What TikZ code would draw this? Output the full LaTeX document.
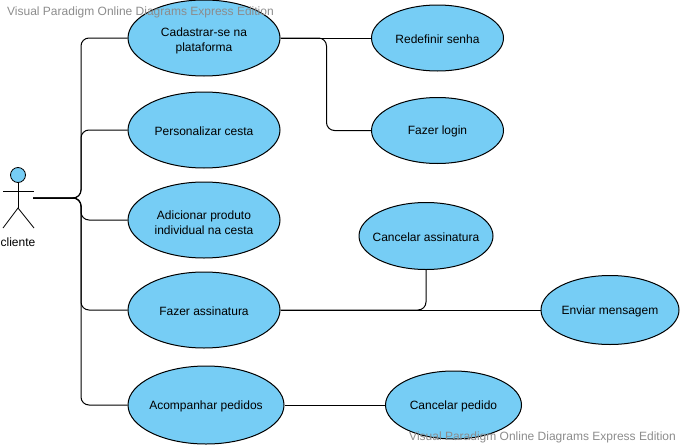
\documentclass[tikz,border=0pt]{standalone}
\usepackage{fontspec}
\setmainfont{Liberation Sans}
\usetikzlibrary{shapes.geometric}
\definecolor{usefill}{HTML}{76CDF5}
\definecolor{markgrey}{HTML}{8C8C8C}
\newcommand{\firstline}{\rule{0pt}{14pt}}
\tikzset{
usecase/.style={ellipse,draw=black,fill=usefill,line width=1pt,inner sep=-30pt,align=center,font=\fontsize{12}{15}\selectfont,execute at begin node={\rule{0pt}{11pt}}},
conn/.style={draw=black,line width=1pt,rounded corners=8pt},
stick/.style={draw=black,line width=0.8pt},
watermark/.style={text=markgrey,inner sep=0pt,font=\fontsize{12}{14}\selectfont}
}
\begin{document}
\begin{tikzpicture}[x=1pt,y=-1pt]
\useasboundingbox (0,0) rectangle (682,447);
%use cases
\node[usecase,minimum width=152pt,minimum height=76pt] (cadastrar) at (204,38) {\firstline Cadastrar-se na\\plataforma};
\node[usecase,minimum width=152pt,minimum height=76pt] (cesta) at (204,130) {Personalizar cesta};
\node[usecase,minimum width=152pt,minimum height=76pt] (produto) at (204,220) {\firstline Adicionar produto\\individual na cesta};
\node[usecase,minimum width=152pt,minimum height=76pt] (assinatura) at (204,310) {Fazer assinatura};
\node[usecase,minimum width=156pt,minimum height=78pt] (pedidos) at (206,405) {Acompanhar pedidos};
\node[usecase,minimum width=132pt,minimum height=66pt] (senha) at (437.5,38) {Redefinir senha};
\node[usecase,minimum width=132pt,minimum height=66pt] (login) at (437.5,130.5) {Fazer login};
\node[usecase,minimum width=134pt,minimum height=67pt] (cancelar) at (426,236) {Cancelar assinatura};
\node[usecase,minimum width=138pt,minimum height=69pt] (mensagem) at (610,310) {Enviar mensagem};
\node[usecase,minimum width=136pt,minimum height=68pt] (cancpedido) at (453.5,405) {Cancelar pedido};

%actor
\node[circle,draw=black,fill=usefill,line width=0.8pt,inner sep=0pt,minimum size=15pt] (head) at (18,175) {};
\coordinate (hip) at (18,208);
\coordinate (actor) at (33,198);
\draw[stick] (head.south) -- (hip);
\draw[stick] (3,191.5) -- (34,191.5);
\draw[stick] (3,228) -- (hip) -- (34,228);
\node[inner sep=0pt,font=\fontsize{12}{14}\selectfont] (cliente) at (18,242) {cliente};

%connectors
\foreach \x in {cadastrar,cesta,produto,assinatura,pedidos}{
	\draw[conn] (actor) -- ++(48,0) |- (\x.west);
}
\draw[conn] (cadastrar.east) -- (senha.west);
\draw[conn] (cadastrar.east) -- ++(46,0) |- (login.west);
\draw[conn] (assinatura.east) -| (cancelar.south);
\draw[conn] (assinatura.east) -- (mensagem.west);
\draw[conn] (pedidos.east) -- (cancpedido.west);

%watermarks
\node[watermark,anchor=west] (mark1) at (7,12) {Visual Paradigm Online Diagrams Express Edition};
\node[watermark,anchor=east] (mark2) at (676,437.5) {Visual Paradigm Online Diagrams Express Edition};
\end{tikzpicture}
\end{document}
